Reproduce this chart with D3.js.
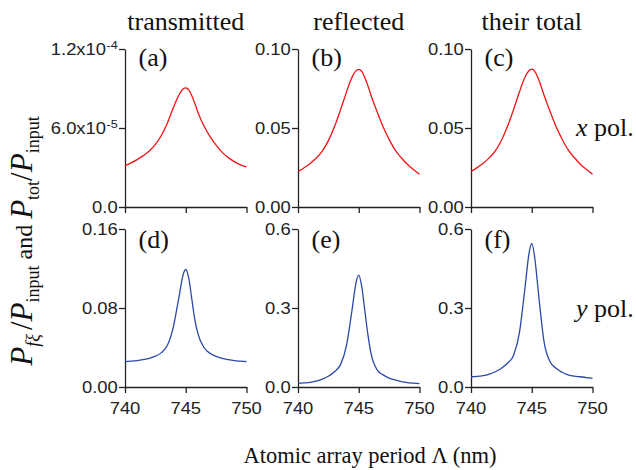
<!DOCTYPE html>
<html><head><meta charset="utf-8">
<script src="https://cdn.jsdelivr.net/npm/d3@7"></script>
<style>
html,body{margin:0;padding:0;background:#fff;}
svg text{white-space:pre;}
.sans{font-family:"Liberation Sans", Arial, sans-serif;}
.serif{font-family:"Liberation Serif", "Times New Roman", serif;}
</style>
</head><body>
<svg id="chart" width="636" height="470"></svg>
<script>
// ---------- data ----------
const period = [740, 740.5, 741, 741.5, 742, 742.5, 743, 743.5, 744, 744.25, 744.5, 744.75, 745, 745.25, 745.5, 745.75, 746, 746.5, 747, 747.5, 748, 748.5, 749, 749.5, 750];
const xTransmitted = [3.14e-5, 3.35e-5, 3.6e-5, 3.9e-5, 4.25e-5, 4.75e-5, 5.45e-5, 6.4e-5, 7.6e-5, 8.15e-5, 8.6e-5, 8.95e-5, 9.05e-5, 8.9e-5, 8.45e-5, 7.85e-5, 7.2e-5, 6.15e-5, 5.35e-5, 4.7e-5, 4.15e-5, 3.75e-5, 3.45e-5, 3.2e-5, 3.05e-5];
const xReflected = [0.0224, 0.0248, 0.0276, 0.031, 0.0354, 0.042, 0.0508, 0.0615, 0.073, 0.0785, 0.083, 0.086, 0.0871, 0.0858, 0.082, 0.0768, 0.0709, 0.0605, 0.0508, 0.0428, 0.036, 0.0312, 0.027, 0.0237, 0.0207];
const xTotal = [0.0225, 0.0249, 0.0277, 0.0311, 0.0355, 0.0421, 0.0509, 0.0616, 0.0731, 0.0786, 0.0831, 0.0861, 0.0872, 0.0859, 0.0821, 0.0769, 0.071, 0.0606, 0.0509, 0.0429, 0.0361, 0.0313, 0.0271, 0.0238, 0.0208];
const yTransmitted = [0.0257, 0.0261, 0.0267, 0.0277, 0.029, 0.0312, 0.0348, 0.0425, 0.062, 0.078, 0.095, 0.112, 0.119, 0.110, 0.089, 0.068, 0.054, 0.040, 0.0341, 0.031, 0.029, 0.0277, 0.0267, 0.0261, 0.0256];
const yReflected = [0.0139, 0.0155, 0.0177, 0.022, 0.030, 0.041, 0.058, 0.085, 0.16, 0.23, 0.31, 0.39, 0.425, 0.38, 0.29, 0.20, 0.13, 0.066, 0.046, 0.034, 0.0266, 0.0205, 0.0165, 0.0145, 0.0127];
const yTotal = [0.039, 0.040, 0.043, 0.049, 0.058, 0.071, 0.09, 0.12, 0.21, 0.30, 0.40, 0.50, 0.545, 0.49, 0.38, 0.27, 0.175, 0.097, 0.071, 0.056, 0.046, 0.041, 0.039, 0.036, 0.033];

const xTicks = [740, 745, 750];
const columnTitles = ["transmitted", "reflected", "their total"];
const rowLabels = ["x", "y"];
const panelLetters = ["(a)", "(b)", "(c)", "(d)", "(e)", "(f)"];
const yMaxes = [1.2e-4, 0.10, 0.10, 0.16, 0.6, 0.6];
const yTickValues = [[0, 6e-5, 1.2e-4], [0, 0.05, 0.10], [0, 0.05, 0.10], [0, 0.08, 0.16], [0, 0.3, 0.6], [0, 0.3, 0.6]];
const yTickLabels = [["0.0", "6.0x10^-5", "1.2x10^-4"], ["0.00", "0.05", "0.10"], ["0.00", "0.05", "0.10"], ["0.00", "0.08", "0.16"], ["0.0", "0.3", "0.6"], ["0.0", "0.3", "0.6"]];
const seriesList = [xTransmitted, xReflected, xTotal, yTransmitted, yReflected, yTotal];
const rowColors = ["#f01414", "#2b48a8"];

// ---------- layout ----------
const svg = d3.select("#chart");
const colX = [125, 298, 471];
const rowY = [49, 229];
const pw = 121.5, ph = 158;
const axisColor = "#222";
const stretch = 1.15;
const labelGap = 7.3;

for (let k = 0; k < 6; k++) {
  const r = Math.floor(k / 3), c = k % 3;
  const g = svg.append("g").attr("transform", `translate(${colX[c]},${rowY[r]})`);
  const x = d3.scaleLinear().domain([740, 750]).range([0, pw]);
  const y = d3.scaleLinear().domain([0, yMaxes[k]]).range([ph, 0]);

  const xa = g.append("g").attr("transform", `translate(0,${ph})`)
    .call(d3.axisBottom(x).tickValues(xTicks).tickSize(6).tickSizeOuter(0).tickFormat(() => ""));
  const ya = g.append("g")
    .call(d3.axisLeft(y).tickValues(yTickValues[k]).tickSize(6).tickSizeOuter(0).tickFormat(() => ""));
  [xa, ya].forEach(a => {
    a.selectAll("text").remove();
    a.select(".domain").attr("stroke", axisColor).attr("stroke-width", 1.3);
    a.selectAll(".tick line").attr("stroke", axisColor).attr("stroke-width", 1.3);
  });

  // x tick labels (bottom row only)
  if (r === 1) {
    xTicks.forEach(v => {
      g.append("text").attr("class", "sans").attr("font-size", 16).style("font-size", "16px")
        .attr("fill", "#222").attr("text-anchor", "middle")
        .attr("transform", `translate(${x(v)},${ph + 26.5}) scale(${stretch},1)`)
        .text(d3.format("d")(v));
    });
  }

  // y tick labels
  const labels = yTickLabels[k];
  yTickValues[k].forEach((v, i) => {
    const parts = labels[i].split("^");
    const yy = y(v);
    let supW = 0;
    if (parts.length > 1) {
      const s = g.append("text").attr("class", "sans").attr("font-size", 11).style("font-size", "11px")
        .attr("fill", "#222").attr("text-anchor", "end")
        .attr("transform", `translate(${-labelGap},${yy - 0.5}) scale(${stretch},1)`)
        .text(parts[1]);
      supW = s.node().getBBox().width * stretch;
    }
    g.append("text").attr("class", "sans").attr("font-size", 16).style("font-size", "16px")
      .attr("fill", "#222").attr("text-anchor", "end")
      .attr("transform", `translate(${-labelGap - supW},${yy + 5.8}) scale(${stretch},1)`)
      .text(parts[0]);
  });

  // curve
  const line = d3.line().x((d, i) => x(period[i])).y(d => y(d)).curve(d3.curveMonotoneX);
  g.append("path").datum(seriesList[k]).attr("d", line)
    .attr("fill", "none").attr("stroke", rowColors[r]).attr("stroke-width", 1.3);

  // panel letter
  g.append("text").attr("class", "serif").attr("x", 13.5).attr("y", r === 0 ? 17 : 19)
    .style("font-size", "26px").attr("fill", "#111")
    .text(panelLetters[k]);
}

// column titles
columnTitles.forEach((t, c) => {
  svg.append("text").attr("class", "serif").attr("x", colX[c] + pw / 2).attr("y", 30).attr("text-anchor", "middle")
    .style("font-size", "26px").attr("fill", "#111").text(t);
});

// row polarisation labels
[136, 317].forEach((yy, r) => {
  const t = svg.append("text").attr("class", "serif").attr("x", 576).attr("y", yy)
    .style("font-size", "26px").attr("fill", "#111");
  t.append("tspan").attr("font-style", "italic").text(rowLabels[r]);
  t.append("tspan").text(" pol.");
});

// x axis title
svg.append("text").attr("class", "serif").attr("x", 370).attr("y", 463).attr("text-anchor", "middle")
  .style("font-size", "22.5px").attr("fill", "#111")
  .text("Atomic array period \u039B (nm)");

// y axis title
const yl = svg.append("text").attr("class", "serif").attr("transform", "translate(32,241) rotate(-90)")
  .attr("text-anchor", "middle").attr("fill", "#111");
const big = "31px", sub = "18px", mid = "24px";
yl.append("tspan").style("font-size", big).attr("font-style", "italic").text("P");
yl.append("tspan").style("font-size", sub).attr("font-style", "italic").attr("dy", 7).text("f\u03BE");
yl.append("tspan").style("font-size", big).attr("dy", -7).attr("dx", 4).text("/");
yl.append("tspan").style("font-size", big).attr("font-style", "italic").text("P");
yl.append("tspan").style("font-size", sub).attr("dy", 7).text("input");
yl.append("tspan").style("font-size", mid).attr("dy", -7).text(" and ");
yl.append("tspan").style("font-size", big).attr("font-style", "italic").text("P");
yl.append("tspan").style("font-size", sub).attr("dy", 7).text("tot");
yl.append("tspan").style("font-size", big).attr("dy", -7).text("/");
yl.append("tspan").style("font-size", big).attr("font-style", "italic").text("P");
yl.append("tspan").style("font-size", sub).attr("dy", 7).text("input");
</script>
</body></html>
